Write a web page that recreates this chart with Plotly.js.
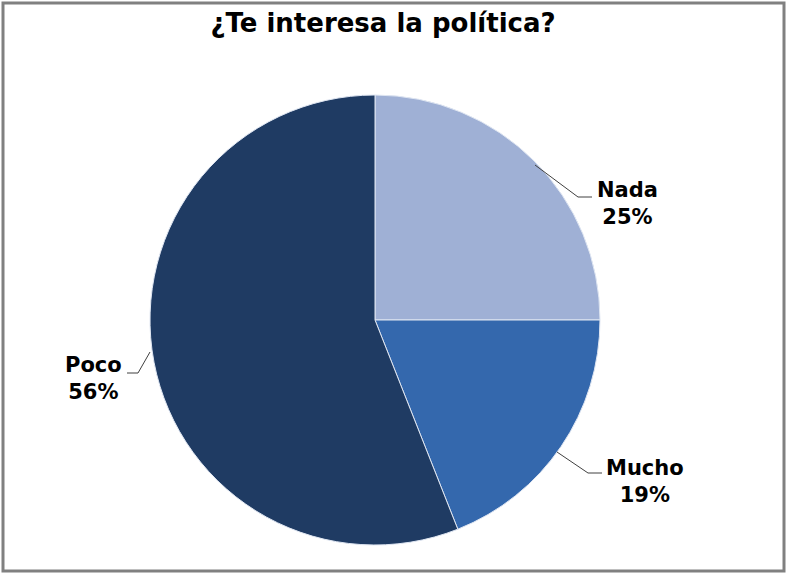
<!DOCTYPE html>
<html>
<head>
<meta charset="utf-8">
<script src="https://cdn.plot.ly/plotly-3.0.1.min.js"></script>
<style>html,body{margin:0;padding:0;background:#fff;}#chart{width:787px;height:574px;}</style>
</head>
<body>
<div id="chart"></div>
<script>
const categories = ["Nada", "Mucho", "Poco"];
const values = [25, 19, 56];
const colors = ["#9fb0d5", "#3468ad", "#1f3b63"];
const titleText = "¿Te interesa la política?";

const W = 787, H = 574;
const px = x => x / W;
const py = y => 1 - y / H;

const total = values.reduce((a, b) => a + b, 0);
const pct = values.map(v => Math.round(v / total * 100) + "%");

// label placement (pixel layout positions)
const labelPos = [
  {x: 627, y: 203},
  {x: 645, y: 481},
  {x: 93, y: 378}
];
const leaders = [
  [[535,165],[578,197],[592,197]],
  [[557,452],[588,473],[602,473]],
  [[150,352],[138,373],[127,373]]
];

const cx = 375, cy = 320, r = 225;

const trace = {
  type: "pie",
  labels: categories,
  values: values,
  sort: false,
  direction: "clockwise",
  rotation: 0,
  textinfo: "none",
  hoverinfo: "label+percent",
  marker: {colors: colors, line: {color: "#dfe6f2", width: 1}},
  domain: {x: [px(cx - r), px(cx + r)], y: [py(cy + r), py(cy - r)]},
  showlegend: false
};

const annotations = categories.map((c, i) => ({
  xref: "paper", yref: "paper",
  x: px(labelPos[i].x), y: py(labelPos[i].y),
  xanchor: "center", yanchor: "middle",
  text: "<b>" + c + "<br>" + pct[i] + "</b>",
  showarrow: false,
  align: "center",
  font: {family: "DejaVu Sans", size: 21, color: "#000"}
}));

const shapes = leaders.map(pts => ({
  type: "path", xref: "paper", yref: "paper",
  path: "M" + pts.map(p => px(p[0]) + "," + py(p[1])).join(" L"),
  line: {color: "#404040", width: 1}
}));
shapes.push({
  type: "rect", xref: "paper", yref: "paper",
  x0: px(3), x1: px(784), y0: py(571), y1: py(3),
  line: {color: "#808080", width: 3}
});

const layout = {
  width: W, height: H,
  margin: {l: 0, r: 0, t: 0, b: 0},
  paper_bgcolor: "#fff",
  title: {
    text: "<b>" + titleText + "</b>",
    x: 383 / W, xanchor: "center",
    y: py(23), yanchor: "middle",
    font: {family: "DejaVu Sans", size: 26, color: "#000"}
  },
  annotations: annotations,
  shapes: shapes
};

Plotly.newPlot("chart", [trace], layout, {displayModeBar: false});
</script>
</body>
</html>
